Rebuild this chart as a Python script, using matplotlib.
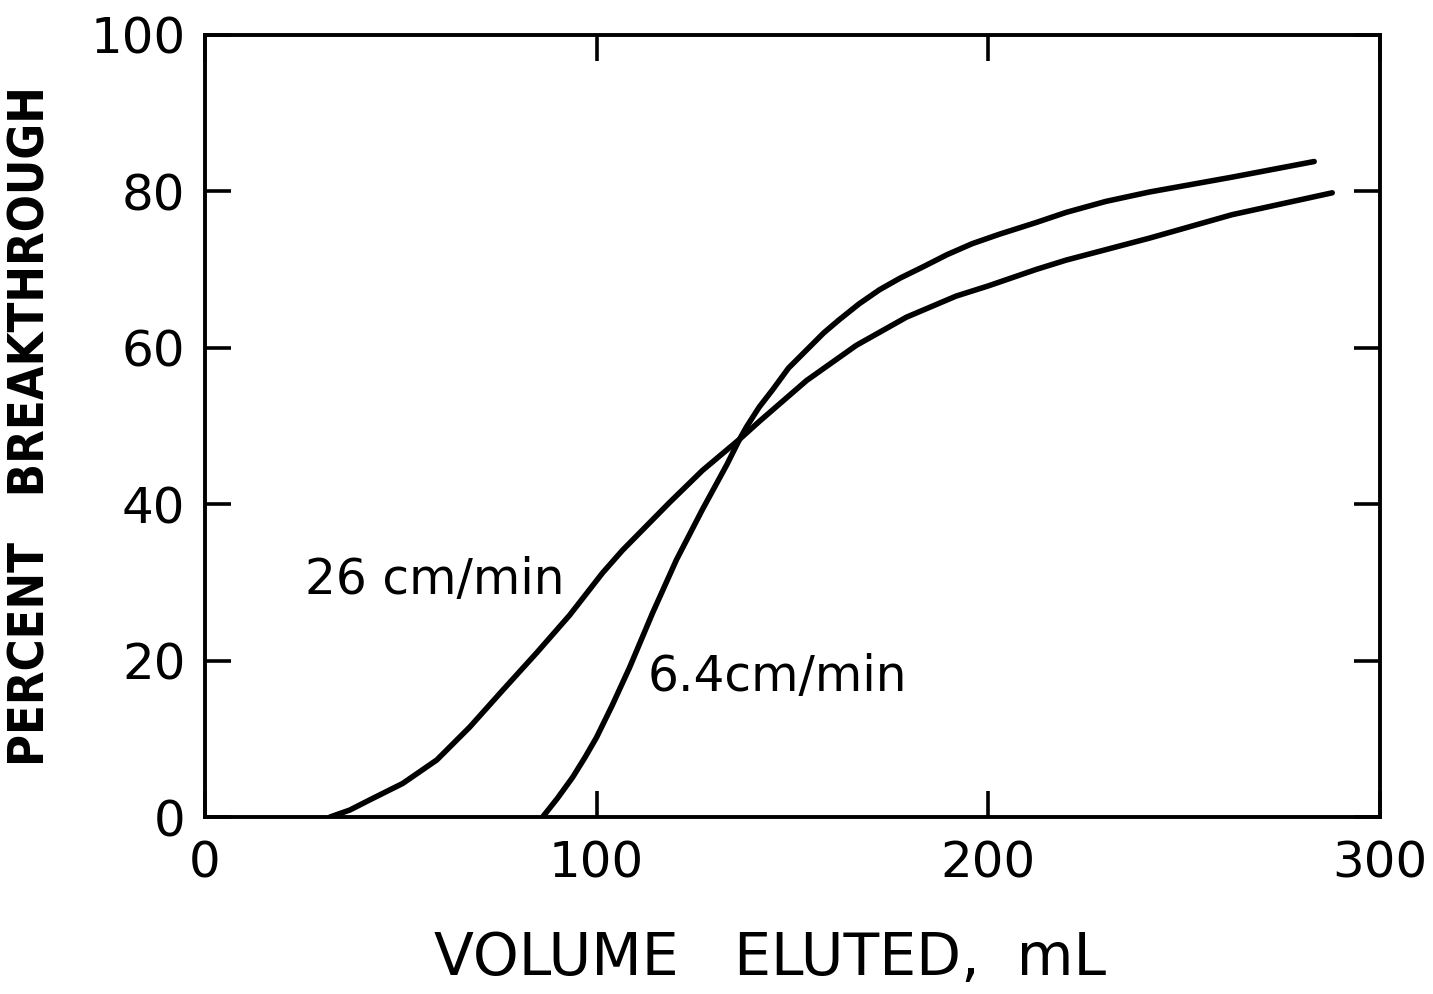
import matplotlib
matplotlib.use("Agg")
import matplotlib.pyplot as plt

# Data (volume eluted in mL, percent breakthrough)
vol_26 = [31.9, 37, 42.1, 50.5, 59.2, 67.6, 76, 84.7, 93.1, 101.5, 106.6, 118.6, 127, 136.5,
          141.6, 153.6, 166.3, 179.1, 191.8, 200, 212.2, 219.9, 241.1, 262.2, 287.8]
pct_26 = [0, 0.9, 2.2, 4.3, 7.3, 11.5, 16.2, 21, 25.8, 31.2, 34.1, 40.2, 44.3, 48.3,
          50.6, 55.8, 60.3, 63.9, 66.6, 67.9, 70, 71.2, 74, 77, 79.8]

vol_64 = [86.2, 90, 93.9, 97, 100, 104, 108.4, 114.3, 120.4, 127, 133.2, 136.5,
          138.3, 141.5, 144.9, 149, 153.6, 158, 162, 167, 172.2, 177.5, 183.2, 189.5, 195.9,
          202.8, 212.2, 219.9, 230, 241.1, 262.2, 283.2]
pct_64 = [0, 2.4, 5.1, 7.6, 10.2, 14.3, 19.1, 26.1, 32.9, 39.3, 45.0, 48.3,
          49.9, 52.4, 54.6, 57.4, 59.7, 61.9, 63.6, 65.6, 67.4, 68.9, 70.3, 71.9, 73.3,
          74.5, 76, 77.3, 78.7, 79.9, 81.8, 83.8]

x_ticks = [0, 100, 200, 300]
y_ticks = [0, 20, 40, 60, 80, 100]
label_26 = "26 cm/min"
label_64 = "6.4cm/min"
x_title = "VOLUME   ELUTED,  mL"
y_title = "PERCENT   BREAKTHROUGH"

plt.rcParams['font.family'] = ['DejaVu Sans']

fig = plt.figure(figsize=(14.33, 9.94), dpi=100)
ax = fig.add_axes([0.143, 0.178, 0.820, 0.787])

ax.plot(vol_26, pct_26, color='black', lw=4.0, solid_capstyle='round', solid_joinstyle='round')
ax.plot(vol_64, pct_64, color='black', lw=4.0, solid_capstyle='round', solid_joinstyle='round')

ax.set_xlim(0, 300)
ax.set_ylim(0, 100)
ax.set_xticks(x_ticks)
ax.set_yticks(y_ticks)
ax.set_xticklabels([str(v) for v in x_ticks])
ax.set_yticklabels([str(v) for v in y_ticks])

ax.tick_params(direction='in', length=19, width=2.6, top=True, right=True,
               labelsize=36, colors='black')
ax.tick_params(axis='y', pad=14)
ax.tick_params(axis='x', pad=16)
for s in ax.spines.values():
    s.set_linewidth(2.8)

ax.text(25.5, 30.3, label_26, fontsize=35, va='center', ha='left')
ax.text(113, 17.9, label_64, fontsize=35, va='center', ha='left')

ax.set_xlabel(x_title, fontsize=42)
ax.xaxis.set_label_coords(0.481, -0.145)
ax.set_ylabel(y_title, fontsize=35, fontweight='bold', fontstretch='condensed')
ax.yaxis.set_label_coords(-0.128, 0.5)

fig.savefig("out.png", dpi=100)
